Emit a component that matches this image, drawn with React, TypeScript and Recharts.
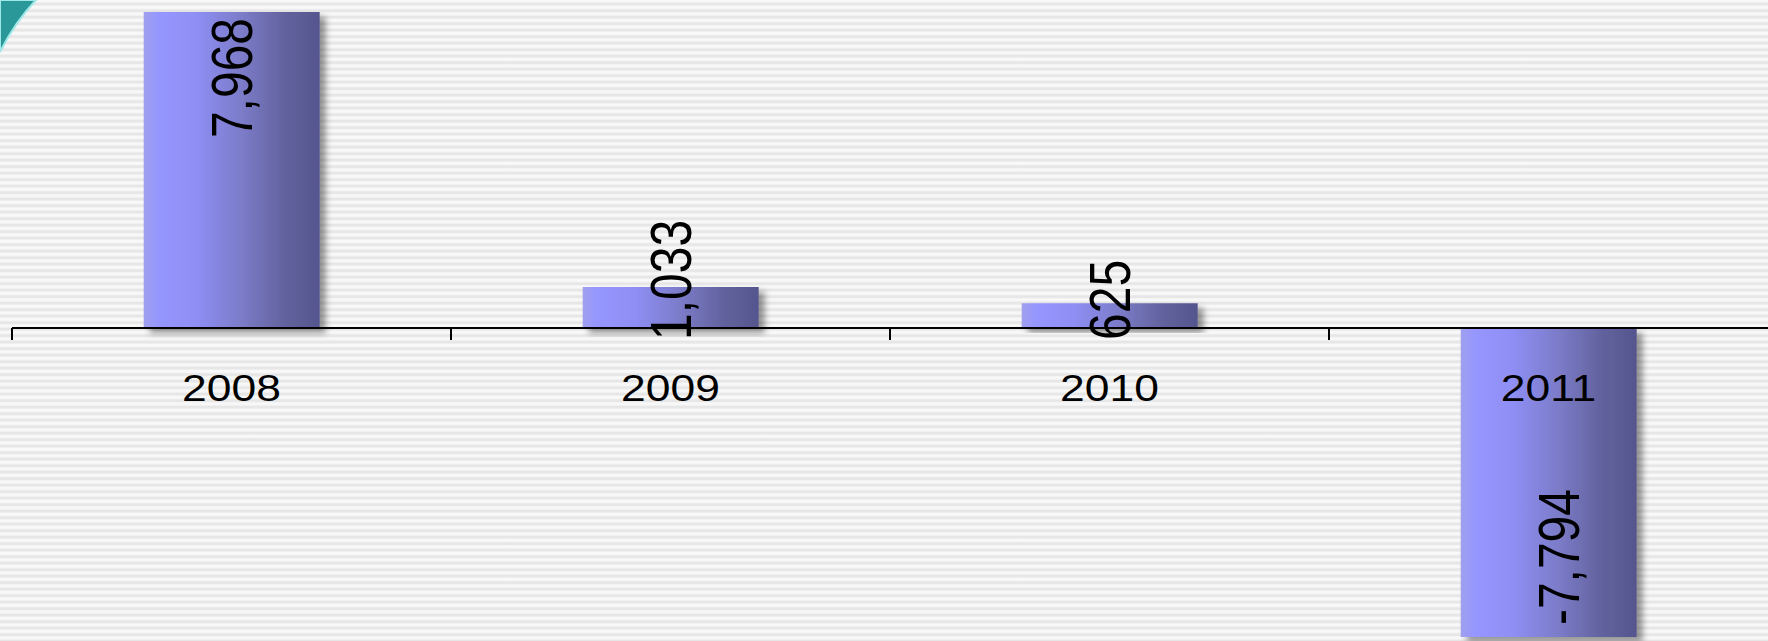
import { Bar, BarChart, LabelList, ReferenceDot, ReferenceLine, XAxis, YAxis } from "recharts";

const years = ["2008", "2009", "2010", "2011"];
const values = [7968, 1033, 625, -7794];
const valueLabels = ["7,968", "1,033", "625", "-7,794"];

const data = years.map((year, i) => ({ year, value: values[i], label: valueLabels[i] }));

const W = 1768;
const H = 641;
const LEFT = 12;
const FONT = "'Liberation Sans', Arial, sans-serif";
const BAND = (W - LEFT) / years.length;
const STRETCH = 1.18; // source text is drawn a bit wide

// rough advance widths (em) for Arial-metric digits, used to keep labels inside/near the bar
const textLen = (s: string, size: number) =>
  s.split("").reduce((n, c) => n + (c === "," ? 0.278 : c === "-" ? 0.333 : 0.556), 0) * size;

function ValueLabel(props: any) {
  const { x, y, width, height, value } = props;
  const top = Math.min(y, y + height);
  const bottom = Math.max(y, y + height);
  const neg = String(value).startsWith("-");
  const cx = x + width / 2 + (neg ? 10 : 0);
  const len = textLen(String(value), 48);
  let t0: number;
  let t1: number;
  if (neg) {
    t1 = bottom - 12;
    t0 = t1 - len;
  } else {
    t0 = top + 6;
    t1 = t0 + len;
    if (t1 > bottom + 12) {
      t1 = bottom + 12;
      t0 = t1 - len;
    }
  }
  const cy = (t0 + t1) / 2;
  return (
    <text
      x={0}
      y={0}
      transform={`translate(${cx} ${cy}) scale(${STRETCH} 1) rotate(-90)`}
      textAnchor="middle"
      dominantBaseline="central"
      fontSize={48}
      fontFamily={FONT}
      fill="#000"
    >
      {value}
    </text>
  );
}

function CategoryMark(props: any) {
  const { cx, cy, label } = props;
  const left = cx - BAND / 2;
  return (
    <g>
      <line x1={left} y1={cy} x2={left} y2={cy + 12} stroke="#000" strokeWidth={2} />
      <text
        x={0}
        y={0}
        transform={`translate(${cx} ${cy + 60}) scale(1.2 1)`}
        textAnchor="middle"
        dominantBaseline="central"
        fontSize={37}
        fontFamily={FONT}
        fill="#000"
      >
        {label}
      </text>
    </g>
  );
}

export default function App() {
  return (
    <div
      style={{
        position: "relative",
        width: W,
        height: H,
        overflow: "hidden",
        background: "repeating-linear-gradient(to bottom, #f9f9f9 0px, #f6f6f6 2px, #e6e6e6 3.5px, #e8e8e8 5px, #f9f9f9 6.5px)",
      }}
    >
      <style>{"body{margin:0}"}</style>
      <BarChart width={W} height={H} data={data} margin={{ top: 0, right: 0, bottom: 0, left: LEFT }} barCategoryGap="30%">
        <defs>
          <linearGradient id="barFill" x1="0" y1="0" x2="1" y2="0">
            <stop offset="0%" stopColor="#a0a0ee" />
            <stop offset="8%" stopColor="#9696ff" />
            <stop offset="30%" stopColor="#8e8ef4" />
            <stop offset="55%" stopColor="#7c7cca" />
            <stop offset="80%" stopColor="#62629e" />
            <stop offset="100%" stopColor="#55558e" />
          </linearGradient>
          <filter id="shadow" x="-10%" y="-10%" width="130%" height="130%">
            <feDropShadow dx={6} dy={5} stdDeviation={3} floodColor="#000" floodOpacity={0.4} />
          </filter>
        </defs>
        <XAxis dataKey="year" hide />
        <YAxis hide domain={[-7893, 8270]} allowDataOverflow />
        <Bar dataKey="value" fill="url(#barFill)" filter="url(#shadow)" isAnimationActive={false}>
          <LabelList dataKey="label" content={<ValueLabel />} />
        </Bar>
        <ReferenceLine y={0} stroke="#000" strokeWidth={2} ifOverflow="visible" />
        {years.map((year) => (
          <ReferenceDot key={year} x={year} y={0} r={0} ifOverflow="visible" shape={(p: any) => <CategoryMark {...p} label={year} />} />
        ))}
      </BarChart>
      <svg width={70} height={70} style={{ position: "absolute", left: 0, top: 0 }}>
        <path d="M0,0 L36,0 Q15,22 0,52 Z" fill="#2a9898" stroke="#9fe8e8" strokeWidth={2} />
      </svg>
    </div>
  );
}
